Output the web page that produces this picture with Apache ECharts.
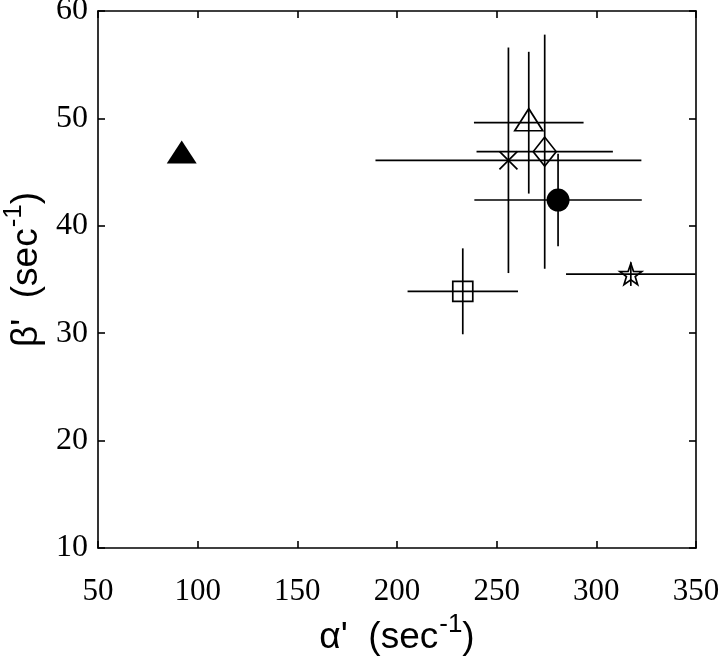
<!DOCTYPE html>
<html>
<head>
<meta charset="utf-8">
<title>alpha' vs beta'</title>
<script src="https://cdn.jsdelivr.net/npm/echarts@6/dist/echarts.min.js"></script>
<style>
  html, body { margin: 0; padding: 0; background: #fff; }
  #chart { width: 720px; height: 658px; }
</style>
</head>
<body>
<div id="chart"></div>
<script>
// data (alpha', beta' in sec^-1)
const alphaVals = [92.0, 266.1, 255.9, 274.1, 280.8, 317.3, 233.0];
const betaVals  = [46.6, 49.6, 46.1, 46.9, 42.4, 35.5, 33.9];
const alphaErr  = [0, 27.5, 66.7, 34.2, 42.0, 32.5, 27.7];
const betaErr   = [0, 6.6, 10.5, 10.9, 4.3, 1.1, 4.0];
const xTicks = [50, 100, 150, 200, 250, 300, 350];
const yTicks = [10, 20, 30, 40, 50, 60];

// 5 point star outline
let starPath = 'path://';
for (let i = 0; i < 10; i++) {
  const a = (-90 + i * 36) * Math.PI / 180;
  const r = i % 2 ? 0.4 : 1;
  starPath += (i ? 'L' : 'M') + (r * Math.cos(a)).toFixed(3) + ',' + (r * Math.sin(a)).toFixed(3);
}
starPath += 'Z';

const open = { color: 'rgba(0,0,0,0)', borderColor: '#000', borderWidth: 1.7, opacity: 1 };
const filled = { color: '#000', opacity: 1 };
const markerStyles = [
  { symbol: 'triangle', symbolSize: [30, 23], symbolOffset: [0, -3], itemStyle: filled },
  { symbol: 'triangle', symbolSize: [28, 22], symbolOffset: [0, -3], itemStyle: open },
  { symbol: 'path://M0,0L10,10M10,0L0,10', symbolSize: [18, 18], itemStyle: open },
  { symbol: 'diamond', symbolSize: [23, 29], itemStyle: open },
  { symbol: 'circle', symbolSize: 23, itemStyle: filled },
  { symbol: starPath, symbolSize: [22, 21], itemStyle: open },
  { symbol: 'rect', symbolSize: [20, 20], itemStyle: open }
];

const points = alphaVals.map((x, i) => Object.assign({ value: [x, betaVals[i]] }, markerStyles[i]));
const errData = alphaVals.map((x, i) => [x, betaVals[i], alphaErr[i], betaErr[i]]);

const serif = '"Liberation Serif", "Times New Roman", serif';
const sans = '"Liberation Sans", Arial, sans-serif';
const lineStyle = { color: '#000', width: 1.6 };

const chart = echarts.init(document.getElementById('chart'));

const baseX = {
  type: 'value', min: 50, max: 350, interval: 50,
  axisLine: { show: true, onZero: false, lineStyle },
  axisTick: { show: true, inside: true, length: 7, lineStyle },
  splitLine: { show: false }
};
const baseY = {
  type: 'value', min: 10, max: 60, interval: 10,
  axisLine: { show: true, onZero: false, lineStyle },
  axisTick: { show: true, inside: true, length: 7, lineStyle },
  splitLine: { show: false }
};

const supStyle = { sup: { color: '#000', fontFamily: sans, fontSize: 26, padding: [0, 0, 26, 1] } };

chart.setOption({
  animation: false,
  grid: { left: 98, top: 11, width: 598, height: 537, containLabel: false, outerBoundsMode: 'none' },
  xAxis: [
    Object.assign({}, baseX, {
      position: 'bottom',
      axisLabel: { color: '#000', fontFamily: serif, fontSize: 31, margin: 28,
        formatter: v => xTicks.includes(v) ? String(v) : '' },
      name: "α'  (sec{sup|-1})",
      nameLocation: 'middle',
      nameGap: 64,
      nameTextStyle: { color: '#000', fontFamily: sans, fontSize: 37, rich: supStyle }
    }),
    Object.assign({}, baseX, { position: 'top', axisLabel: { show: false } })
  ],
  yAxis: [
    Object.assign({}, baseY, {
      position: 'left',
      axisLabel: { color: '#000', fontFamily: serif, fontSize: 32, margin: 10,
        formatter: v => yTicks.includes(v) ? String(v) : '' },
      name: "β'  (sec{sup|-1})",
      nameLocation: 'middle',
      nameGap: 43,
      nameTextStyle: { color: '#000', fontFamily: sans, fontSize: 37, padding: [0, 0, 0, 20], rich: supStyle }
    }),
    Object.assign({}, baseY, { position: 'right', axisLabel: { show: false } })
  ],
  series: [
    {
      type: 'custom',
      xAxisIndex: 0,
      yAxisIndex: 0,
      data: errData,
      renderItem: (params, api) => {
        const x = api.value(0), y = api.value(1), ex = api.value(2), ey = api.value(3);
        const children = [];
        const st = { stroke: '#000', lineWidth: 1.7 };
        if (ex > 0) {
          const a = api.coord([x - ex, y]), b = api.coord([Math.min(x + ex, 350), y]);
          children.push({ type: 'line', shape: { x1: a[0], y1: a[1], x2: b[0], y2: b[1] }, style: st });
        }
        if (ey > 0) {
          const a = api.coord([x, y - ey]), b = api.coord([x, y + ey]);
          children.push({ type: 'line', shape: { x1: a[0], y1: a[1], x2: b[0], y2: b[1] }, style: st });
        }
        return { type: 'group', children };
      },
      z: 2
    },
    {
      type: 'scatter',
      xAxisIndex: 0,
      yAxisIndex: 0,
      data: points,
      z: 3
    }
  ]
});
</script>
</body>
</html>
